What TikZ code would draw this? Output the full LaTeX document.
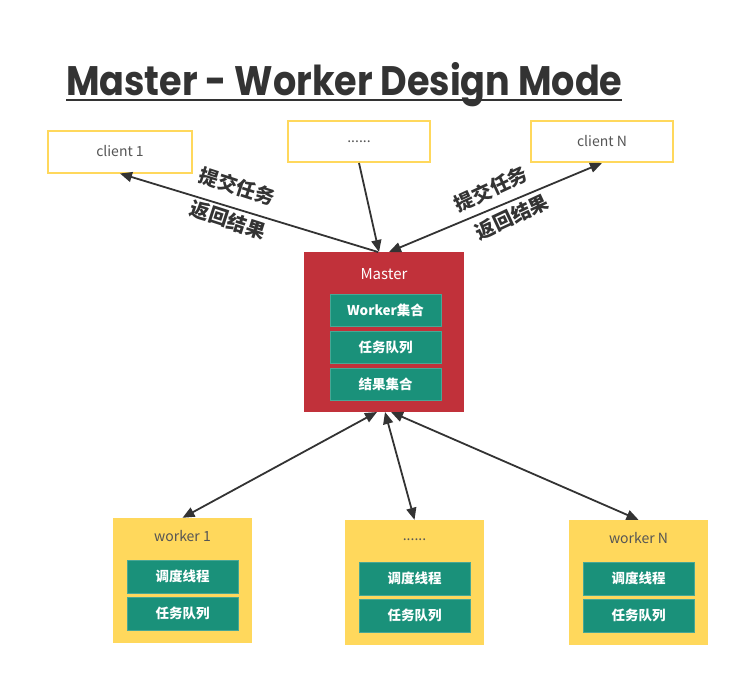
\documentclass[tikz,border=0pt]{standalone}
\usepackage{fontspec}
\setmainfont{Noto Sans CJK SC}
\newfontfamily\titlefont{Poppins Bold}
\usetikzlibrary{arrows.meta}
\definecolor{mred}{HTML}{C1313A}
\definecolor{mgreen}{HTML}{1A917A}
\definecolor{myellow}{HTML}{FFD85C}
\definecolor{ink}{HTML}{333333}
\definecolor{txtgray}{HTML}{555555}
\tikzset{
  clientbox/.style={draw=myellow, line width=2pt, fill=white, inner sep=0pt, font=\fontsize{14}{16}\selectfont, text=txtgray},
  masterbox/.style={fill=mred, inner sep=0pt, minimum width=160pt, minimum height=160pt},
  workerbox/.style={fill=myellow, inner sep=0pt, minimum width=139pt, minimum height=125pt},
  greenbox/.style={fill=mgreen, draw=mgreen!80!white, line width=0.6pt, inner sep=0pt, minimum width=111pt, minimum height=32pt, text=white, font=\bfseries\fontsize{13.5}{15}\selectfont},
  wlabel/.style={text=txtgray, font=\fontsize{14}{16}\selectfont},
  conn/.style={draw=ink, line width=1.8pt},
  tip/.style={-{Triangle[length=12pt,width=10pt]}},
  both/.style={{Triangle[length=12pt,width=10pt]}-{Triangle[length=12pt,width=10pt]}},
  cjklabel/.style={text=ink, inner sep=1pt, font=\bfseries\fontsize{19.5}{21}\selectfont}
}
\begin{document}
\begin{tikzpicture}[x=1pt,y=-1pt]
\useasboundingbox (0,0) rectangle (733,672);
% title
\node[anchor=base west, inner sep=0pt, text=ink] (title) at (66,95) {\resizebox{556pt}{33pt}{\titlefont Master - Worker Design Mode}};
\coordinate (ulA) at (66,100);
\coordinate (ulB) at (622,100);
\draw[ink, line width=2.6pt] (ulA) -- (ulB);
% clients
\node[clientbox, minimum width=144pt, minimum height=42pt] (client1) at (120,151.5) {client 1};
\node[clientbox, minimum width=142pt, minimum height=41pt] (clientM) at (359,141.5) {......};
\node[clientbox, minimum width=142pt, minimum height=41pt] (clientN) at (602,141.5) {client N};
% master
\node[masterbox] (master) at (384,332) {};
\node[text=white, font=\fontsize{15}{17}\selectfont] (mlabel) at (384,274) {Master};
\node[greenbox] (g1) at (385.5,310) {Worker集合};
\node[greenbox] (g2) at (385.5,347) {任务队列};
\node[greenbox] (g3) at (385.5,384) {结果集合};
% workers
\node[workerbox] (worker1) at (182.5,580.5) {};
\node[wlabel] (w1label) at (182.5,536) {worker 1};
\node[greenbox, minimum height=33pt] (w1a) at (182.5,576.5) {调度线程};
\node[greenbox, minimum height=33pt] (w1b) at (182.5,613.5) {任务队列};

\node[workerbox] (worker2) at (414.5,582.5) {};
\node[wlabel] (w2label) at (414.5,540) {......};
\node[greenbox, minimum height=33pt] (w2a) at (414.5,578.5) {调度线程};
\node[greenbox, minimum height=33pt] (w2b) at (414.5,615.5) {任务队列};

\node[workerbox] (workerN) at (638.5,582.5) {};
\node[wlabel] (wNlabel) at (638.5,538) {worker N};
\node[greenbox, minimum height=33pt] (wNa) at (638.5,578.5) {调度线程};
\node[greenbox, minimum height=33pt] (wNb) at (638.5,615.5) {任务队列};
% connector end points on master
\coordinate (mt1) at (378,252);
\coordinate (mt2) at (379,252);
\coordinate (mt3) at (389,252);
\coordinate (mb1) at (377,412);
\coordinate (mb2) at (385,412);
\coordinate (mb3) at (391,412);
% connectors
\draw[conn, tip] (mt1) -- (client1.south);
\draw[conn, tip] (clientM.south) -- (mt2);
\draw[conn, both] (clientN.south) -- (mt3);
\draw[conn, both] (mb1) -- (worker1.north);
\draw[conn, both] (mb2) -- (worker2.north);
\draw[conn, both] (mb3) -- (workerN.north);
% labels
\node[cjklabel, rotate=-18] (l1a) at (237,186) {提交任务};
\node[cjklabel, rotate=-18] (l1b) at (228,220) {返回结果};
\node[cjklabel, rotate=25] (l2a) at (491,189) {提交任务};
\node[cjklabel, rotate=25] (l2b) at (512,217) {返回结果};
\end{tikzpicture}
\end{document}
